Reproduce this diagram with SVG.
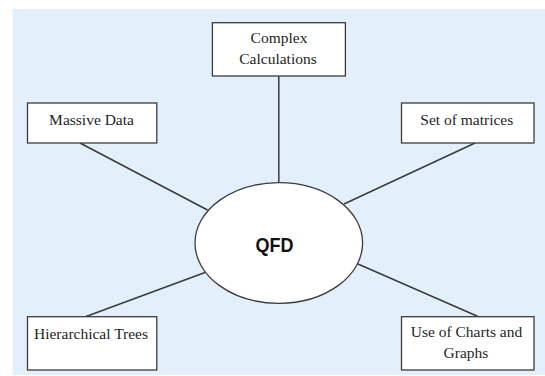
<svg xmlns="http://www.w3.org/2000/svg" width="545" height="376" viewBox="0 0 545 376">
<style>
.box{fill:#ffffff;stroke:#3c3c3c;stroke-width:1.3}
.lbl{font-family:"Liberation Serif","Times New Roman",serif;font-size:15.5px;fill:#1e1e1e;text-anchor:middle}
.conn{stroke:#3a3a3a;stroke-width:1.5;fill:none}
</style>
<rect x="0" y="0" width="545" height="376" fill="#ffffff"/>
<rect x="12.5" y="9" width="532.5" height="366" fill="#e3f0fb"/>
<g id="connectors">
<line class="conn" x1="278.8" y1="76" x2="278.8" y2="183"/>
<line class="conn" x1="80" y1="143" x2="207.5" y2="210"/>
<line class="conn" x1="475" y1="143" x2="344" y2="204"/>
<line class="conn" x1="86" y1="316.5" x2="205" y2="272.5"/>
<line class="conn" x1="478" y1="316.5" x2="358" y2="264"/>
</g>
<g id="qfd">
<ellipse cx="278.8" cy="243" rx="83.8" ry="60.3" fill="#ffffff" stroke="#3c3c3c" stroke-width="1.3"/>
<text x="274.4" y="251.7" font-family="'Liberation Sans',Arial,sans-serif" font-weight="bold" font-size="21" fill="#111" text-anchor="middle" textLength="38" lengthAdjust="spacingAndGlyphs">QFD</text>
</g>
<g id="complex">
<rect class="box" x="212.4" y="22.7" width="133" height="53.3"/>
<text class="lbl" x="279" y="43">Complex</text>
<text class="lbl" x="278" y="64">Calculations</text>
</g>
<g id="massive">
<rect class="box" x="27.5" y="103" width="129.3" height="40"/>
<text class="lbl" x="91.5" y="125">Massive Data</text>
</g>
<g id="matrices">
<rect class="box" x="401.5" y="103" width="132.5" height="40"/>
<text class="lbl" x="466.8" y="125">Set of matrices</text>
</g>
<g id="trees">
<rect class="box" x="27.5" y="316.7" width="129.3" height="53.3"/>
<text class="lbl" x="91" y="339">Hierarchical Trees</text>
</g>
<g id="charts">
<rect class="box" x="401.5" y="316.7" width="132.5" height="53.3"/>
<text class="lbl" x="466.5" y="337">Use of Charts and</text>
<text class="lbl" x="466" y="358">Graphs</text>
</g>
</svg>
